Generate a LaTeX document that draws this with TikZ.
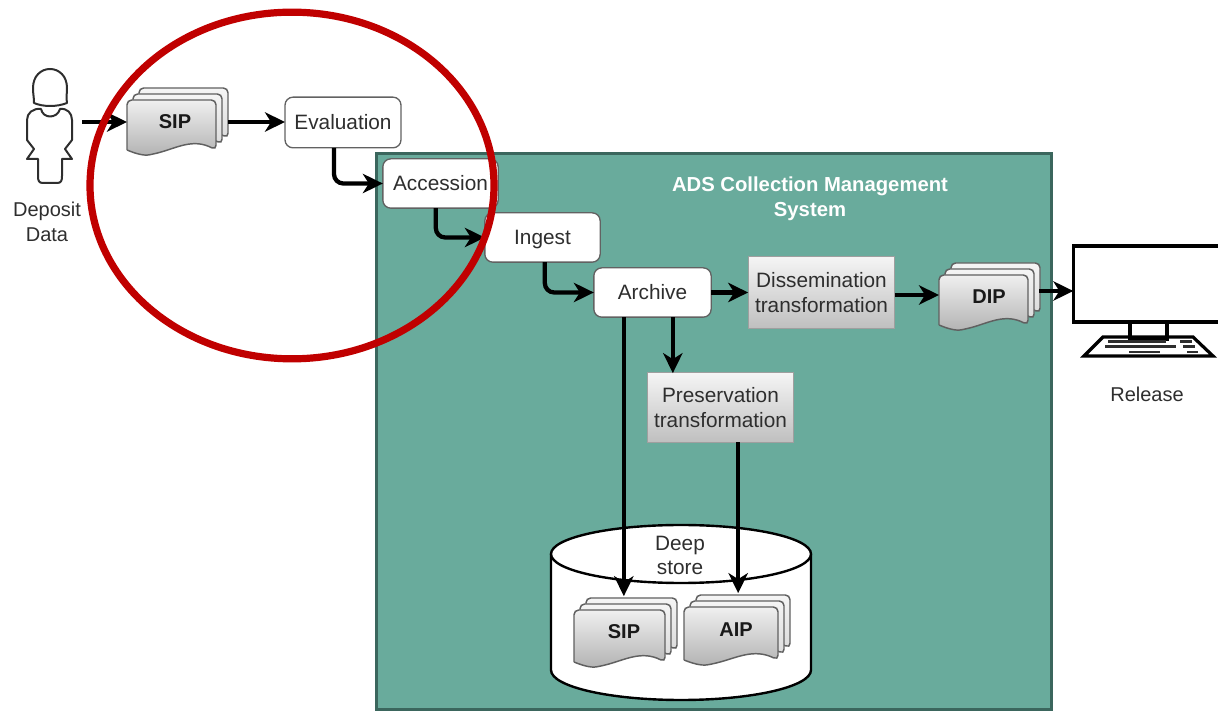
\documentclass[tikz,border=0pt]{standalone}
\usepackage{fontspec}
\setmainfont{Liberation Sans}
\usetikzlibrary{arrows.meta,calc,shapes.geometric}
\definecolor{panel}{HTML}{69AB9C}
\definecolor{panelline}{HTML}{3B665D}
\definecolor{redring}{HTML}{C00000}
\definecolor{ink}{HTML}{2E2E2E}
\tikzset{
  every node/.style={outer sep=0pt},
  flowline/.style={line width=3.2pt,black,-{Stealth[length=15pt,width=14.5pt,inset=4.5pt]},rounded corners=7pt},
  roundbox/.style={draw=ink!75,line width=1pt,rounded corners=6pt,fill=white,text=ink,font=\fontsize{15.6}{18}\selectfont,inner sep=0pt,align=center,text height=11.2pt,text depth=0pt},
  greybox/.style={draw=gray!75,line width=.8pt,top color=gray!8,bottom color=gray!50,text=ink,font=\fontsize{15.6}{18.6}\selectfont,inner sep=0pt,align=center},
  plaintext/.style={text=ink,font=\fontsize{15}{18.6}\selectfont,inner sep=0pt,align=center},
  paneltitle/.style={text=white,font=\fontsize{15.2}{18.8}\selectfont\bfseries,inner sep=0pt,align=center},
  doclabel/.style={text=black!90,font=\fontsize{15}{18}\selectfont\bfseries,inner sep=0pt},
  sheet/.style={draw=gray!75!black,line width=1.1pt,rounded corners=3.5pt},
  outlineicon/.style={draw=ink,line width=1.5pt,line join=round},
  monitorline/.style={draw=black,line width=2.4pt},
  keyline/.style={draw=ink,line width=1.9pt}
}
\newcommand{\docsheet}[3]{%
  \path[sheet,#3] (0,#2) -- (0,0) -- (#1,0) -- (#1,#2)
    .. controls ({.74*#1},{#2-12}) and ({.56*#1},{#2-2}) .. ({.3*#1},{#2+4})
    .. controls ({.18*#1},{#2+6}) and ({.08*#1},{#2+3}) .. (0,#2);}
% name, x, y, width, height, label, label x, label y, connector y
\newcommand{\docstack}[9]{%
  \begin{scope}[shift={(#2,#3)}]
    \begin{scope}[shift={(12,-12)}]\docsheet{#4}{#5}{top color=gray!8,bottom color=gray!30}\end{scope}
    \begin{scope}[shift={(6,-6)}]\docsheet{#4}{#5}{top color=gray!8,bottom color=gray!30}\end{scope}
    \docsheet{#4}{#5}{top color=gray!12,bottom color=gray!60}
  \end{scope}
  \node[doclabel] (#1) at (#7,#8) {#6};
  \coordinate (#1in) at (#2,#9);
  \coordinate (#1out) at ({#2+#4+12},#9);
}
\begin{document}
\begin{tikzpicture}[x=.75pt,y=-.75pt]
\useasboundingbox (0,0) rectangle (1218,712);
% panel
\node[draw=panelline,line width=2.4pt,fill=panel,minimum width=506.5pt,minimum height=417pt,inner sep=0pt] (panelbox) at (714,431.5) {};
\node[paneltitle] (paneltext) at (810,199) {ADS Collection Management\\System};
% person
\path[outlineicon] (34,103) .. controls (34,97) and (33,94) .. (33,88)
  .. controls (33,76) and (41,69) .. (50,69) .. controls (59,69) and (67,76) .. (67,88)
  .. controls (67,94) and (66,97) .. (67,103) .. controls (57,107) and (43,107) .. (34,103) -- cycle;
\path[outlineicon] (41,109) .. controls (43,119) and (57,119) .. (60,109)
  .. controls (67,108) and (72,113) .. (72,120) -- (72,140) -- (65,149) -- (72,159) -- (62,159) -- (62,176)
  .. controls (62,181) and (61,183) .. (57,183) -- (43,183) .. controls (39,183) and (38,181) .. (38,176)
  -- (38,159) -- (27,159) -- (34,149) -- (27,140) -- (27,120)
  .. controls (27,113) and (33,108) .. (41,109) -- cycle;
\node[plaintext] (deposit) at (47,222) {Deposit\\Data};
\coordinate (personout) at (82,122);
% documents
\docstack{sipa}{127}{100}{89}{50}{SIP}{175}{122}{122}
\docstack{dip}{939}{275}{89}{50}{DIP}{989}{297}{295}
% boxes
\node[roundbox,minimum width=87pt,minimum height=38pt] (evaluation) at (343,122.5) {Evaluation};
\node[roundbox,minimum width=86.5pt,minimum height=37pt] (accession) at (440.5,183.5) {Accession};
\node[roundbox,minimum width=86.5pt,minimum height=37pt] (ingest) at (542.5,237.5) {Ingest};
\node[roundbox,minimum width=88pt,minimum height=37pt] (archive) at (652.5,292.5) {Archive};
\node[greybox,minimum width=110pt,minimum height=54pt] (dissem) at (821.5,292.5) {Dissemination\\transformation};
\node[greybox,minimum width=110pt,minimum height=52pt] (preserv) at (720.5,407.5) {Preservation\\transformation};
% deep store
\path[draw=black,line width=1.8pt,fill=white] (551,554) -- (551,670) arc[start angle=180,end angle=360,x radius=130,y radius=-30] -- (811,554);
\node[draw=black,line width=1.8pt,fill=white,ellipse,minimum width=195pt,minimum height=43.5pt,inner sep=0pt] (deeptop) at (681,554) {};
\node[plaintext,font=\fontsize{15.6}{18.6}\selectfont] (deeptext) at (680,555.5) {Deep\\store};
\docstack{sipc}{574}{610}{91}{52}{SIP}{624}{632}{632}
\docstack{aip}{684}{607}{94}{53}{AIP}{736}{630}{630}
% monitor
\node[monitorline,fill=white,minimum width=112pt,minimum height=57pt,inner sep=0pt] (monitor) at (1148,284) {};
\path[monitorline] (1130,322) -- (1130,338) (1167,322) -- (1167,338);
\path[monitorline,fill=white] (1103,337) -- (1193,337) -- (1213,356) -- (1084,356) -- cycle;
\path[draw=black,line width=2.6pt] (1128,339) -- (1169,339);
\path[keyline] (1108,341.5) -- (1166,341.5) (1180,341.5) -- (1192,341.5) (1105,346.5) -- (1176,346.5) (1183,346.5) -- (1195,346.5) (1129,352) -- (1160,352) (1187,352) -- (1198,352);
\node[plaintext,font=\fontsize{15}{18}\selectfont] (release) at (1147,394) {Release};
% connectors
\draw[flowline] (personout) -- (sipain);
\draw[flowline] (sipaout) -- (sipaout -| evaluation.west);
\draw[flowline] ($(evaluation.south west)+(49,0)$) |- (accession.west);
\draw[flowline] ($(accession.south west)+(53,0)$) |- (ingest.west);
\draw[flowline] ($(ingest.south west)+(60,0)$) |- (archive.west);
\draw[flowline] (archive.east) -- (dissem.west);
\draw[flowline] (dissem.east |- dipin) -- (dipin);
\coordinate (dipnext) at (1039,291);
\draw[flowline] (dipnext) -- (dipnext -| monitor.west);
\draw[flowline] ($(archive.south west)+(79,0)$) -- ($(archive.south west)+(79,56)$);
\draw[flowline] ($(archive.south west)+(30,0)$) -- ($(archive.south west)+(30,279)$);
\draw[flowline] ($(preserv.south west)+(91,0)$) -- ($(preserv.south west)+(91,151)$);
% ring
\node[draw=redring,line width=5.4pt,ellipse,minimum width=303pt,minimum height=260pt,inner sep=0pt] (ring) at (292,185.5) {};
\end{tikzpicture}
\end{document}
